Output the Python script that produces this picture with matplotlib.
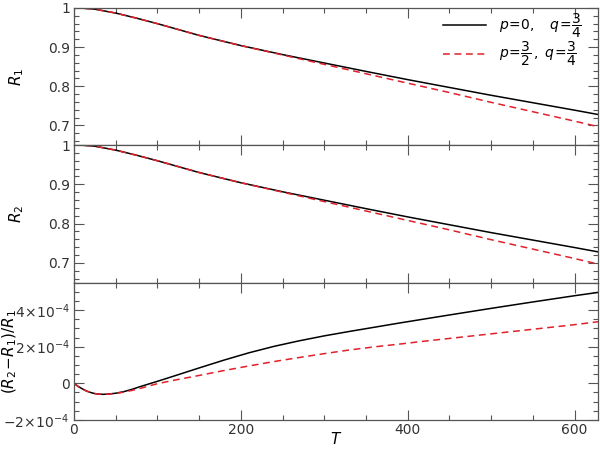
import matplotlib
matplotlib.use("Agg")
import matplotlib.pyplot as plt
from matplotlib.ticker import MultipleLocator, FixedLocator, FixedFormatter

# ---- data ----
T_R = [0, 10, 25, 50, 75, 100, 125, 150, 200, 250, 300, 350, 400, 450, 500, 550, 600, 628]
R1_a = [1.0, 0.9995, 0.997, 0.987, 0.974, 0.960, 0.945, 0.930, 0.904, 0.881, 0.8595, 0.838, 0.817, 0.797, 0.777, 0.758, 0.739, 0.728]
R1_b = [1.0, 0.9995, 0.997, 0.987, 0.974, 0.960, 0.945, 0.930, 0.904, 0.880, 0.856, 0.832, 0.808, 0.784, 0.759, 0.735, 0.711, 0.697]
R2_a = [1.0, 0.9995, 0.997, 0.987, 0.974, 0.960, 0.945, 0.930, 0.904, 0.881, 0.8595, 0.838, 0.817, 0.797, 0.777, 0.758, 0.739, 0.728]
R2_b = [1.0, 0.9995, 0.997, 0.987, 0.974, 0.960, 0.945, 0.930, 0.904, 0.880, 0.856, 0.832, 0.808, 0.784, 0.759, 0.735, 0.711, 0.697]

T_D = [0, 5, 10, 15, 20, 25, 30, 35, 40, 50, 60, 70, 80, 90, 100, 120, 150, 180, 210, 240,
       270, 300, 330, 360, 390, 420, 450, 500, 550, 600, 628]
D_a = [0.0, -0.17, -0.30, -0.42, -0.50, -0.56, -0.59, -0.60, -0.59, -0.54, -0.45, -0.32, -0.17, -0.03, 0.11, 0.40, 0.84, 1.27, 1.67, 2.02,
       2.32, 2.59, 2.83, 3.06, 3.29, 3.51, 3.73, 4.09, 4.44, 4.78, 4.96]
D_b = [0.0, -0.17, -0.30, -0.42, -0.50, -0.56, -0.59, -0.60, -0.59, -0.55, -0.48, -0.38, -0.27, -0.14, -0.02, 0.17, 0.43, 0.70, 0.95, 1.19,
       1.41, 1.62, 1.82, 1.99, 2.14, 2.30, 2.45, 2.70, 2.95, 3.20, 3.36]
D_scale = 1e-4

labels = [r"$p\!=\!0,\ \ \ q\!=\!\dfrac{3}{4}$", r"$p\!=\!\dfrac{3}{2}\,,\ q\!=\!\dfrac{3}{4}$"]
xticks = [0, 200, 400, 600]

BLACK = "#000000"
RED = "#e0202a"
SPINE = "#555555"

fig = plt.figure(figsize=(6.0, 4.49), dpi=100)
L, W = 0.1233, 0.8734
ax1 = fig.add_axes([L, 0.677, W, 0.3052])
ax2 = fig.add_axes([L, 0.3708, W, 0.3062])
ax3 = fig.add_axes([L, 0.0646, W, 0.3062])

dash = (0, (4.5, 3))
for ax, ya, yb in [(ax1, R1_a, R1_b), (ax2, R2_a, R2_b)]:
    ax.plot(T_R, ya, color=BLACK, lw=1.1, label=labels[0])
    ax.plot(T_R, yb, color=RED, lw=1.1, ls=dash, label=labels[1])
    ax.set_ylim(0.65, 1.0)
    ax.yaxis.set_major_locator(FixedLocator([0.7, 0.8, 0.9, 1.0]))
    ax.yaxis.set_major_formatter(FixedFormatter(["0.7", "0.8", "0.9", "1"]))
    ax.yaxis.set_minor_locator(MultipleLocator(0.02))

ax3.plot(T_D, [v * D_scale for v in D_a], color=BLACK, lw=1.1)
ax3.plot(T_D, [v * D_scale for v in D_b], color=RED, lw=1.1, ls=dash)
ax3.set_ylim(-2e-4, 5.5e-4)
ax3.yaxis.set_major_locator(FixedLocator([-2e-4, 0, 2e-4, 4e-4]))
ax3.yaxis.set_major_formatter(FixedFormatter([r"$-2\!\times\!10^{-4}$", "0", r"$2\!\times\!10^{-4}$", r"$4\!\times\!10^{-4}$"]))
ax3.yaxis.set_minor_locator(MultipleLocator(0.5e-4))

for ax in (ax1, ax2, ax3):
    ax.set_xlim(0, 628)
    ax.xaxis.set_major_locator(FixedLocator(xticks))
    ax.xaxis.set_minor_locator(MultipleLocator(50))
    ax.tick_params(which="both", direction="in", top=True, right=True,
                   color=SPINE, labelsize=10, labelcolor="#333333", pad=3)
    ax.tick_params(which="major", length=7, width=0.8)
    ax.tick_params(which="minor", length=3.5, width=0.8)
    for s in ax.spines.values():
        s.set_color(SPINE)
        s.set_linewidth(0.9)

ax1.tick_params(labelbottom=False)
ax2.tick_params(labelbottom=False)
ax3.tick_params(axis="x", pad=2)

ax1.set_ylabel(r"$R_1$", fontsize=11)
ax2.set_ylabel(r"$R_2$", fontsize=11)
ax3.set_ylabel(r"$(R_2\!-\!R_1)/R_1$", fontsize=11)
ax3.set_xlabel(r"$T$", fontsize=11, labelpad=-4)
ax1.yaxis.set_label_coords(-0.092, 0.5)
ax2.yaxis.set_label_coords(-0.092, 0.5)
ax3.yaxis.set_label_coords(-0.105, 0.5)

leg = ax1.legend(loc="upper right", bbox_to_anchor=(0.985, 1.035), frameon=False, fontsize=10,
                 handlelength=3.1, handletextpad=0.9, labelspacing=0.0,
                 borderaxespad=0.2)

fig.savefig("out.png", dpi=100)
